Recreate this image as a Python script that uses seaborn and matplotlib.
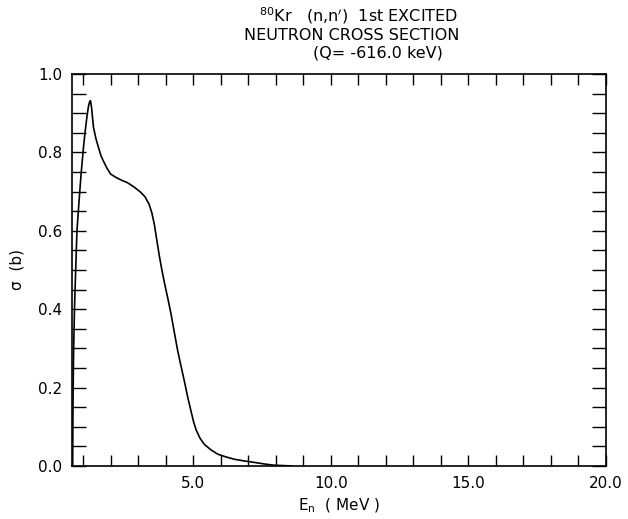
import numpy as np
import pandas as pd
import matplotlib
matplotlib.use("Agg")
import matplotlib.pyplot as plt
from matplotlib.ticker import MultipleLocator, FixedLocator
import seaborn as sns

# Data
energy_mev = [0.624, 0.63, 0.64, 0.66, 0.69, 0.72, 0.78, 0.85, 0.93, 1.02, 1.08, 1.15, 1.20, 1.24, 1.27,
              1.31, 1.38, 1.47, 1.56, 1.65, 1.74, 1.86, 2.00, 2.20, 2.40, 2.61, 2.85, 3.10,
              3.25, 3.40, 3.50, 3.59, 3.68, 3.77, 3.86, 3.95, 4.08, 4.20, 4.32, 4.44, 4.56,
              4.68, 4.80, 4.93, 5.02, 5.11, 5.25, 5.41, 5.65, 5.90, 6.20, 6.51, 6.85,
              7.24, 7.60, 7.95, 8.30, 8.60]
sigma_b = [0.000, 0.080, 0.190, 0.300, 0.400, 0.470, 0.600, 0.670, 0.745, 0.815, 0.855, 0.895, 0.918, 0.929, 0.932,
           0.915, 0.864, 0.835, 0.813, 0.792, 0.778, 0.761, 0.745, 0.736, 0.729, 0.723, 0.712, 0.698,
           0.687, 0.668, 0.646, 0.617, 0.577, 0.537, 0.502, 0.470, 0.428, 0.387, 0.340, 0.294, 0.255,
           0.217, 0.177, 0.138, 0.112, 0.092, 0.071, 0.055, 0.041, 0.030, 0.023, 0.017, 0.013,
           0.009, 0.005, 0.002, 0.001, 0.000]

x_major = [5, 10, 15, 20]
x_labels = ["5.0", "10.0", "15.0", "20.0"]
y_major = [0.0, 0.2, 0.4, 0.6, 0.8, 1.0]
y_labels = ["0.0", "0.2", "0.4", "0.6", "0.8", "1.0"]

title_lines = [r"$^{80}$Kr   (n,n$'$)  1st EXCITED", "NEUTRON CROSS SECTION", "(Q= -616.0 keV)"]

sns.set_style("ticks")
plt.rcParams["font.family"] = ["DejaVu Sans"]
plt.rcParams["mathtext.fontset"] = "dejavusans"
plt.rcParams["text.color"] = "black"
plt.rcParams["axes.labelcolor"] = "black"
plt.rcParams["xtick.color"] = "black"
plt.rcParams["ytick.color"] = "black"

fig = plt.figure(figsize=(6.28, 5.19), dpi=100)
ax = fig.add_axes([72.0 / 628, 1 - 466 / 519, (606 - 72.0) / 628, (466 - 74) / 519])

df = pd.DataFrame({"E": energy_mev, "sigma": sigma_b})
sns.lineplot(data=df, x="E", y="sigma", ax=ax, color="black", linewidth=1.2, sort=False)

ax.set_xlim(0.6, 20)
ax.set_ylim(0, 1.0)

ax.xaxis.set_major_locator(FixedLocator(x_major))
ax.set_xticklabels(x_labels)
ax.xaxis.set_minor_locator(MultipleLocator(1))
ax.yaxis.set_major_locator(FixedLocator(y_major))
ax.set_yticklabels(y_labels)
ax.yaxis.set_minor_locator(MultipleLocator(0.05))

ax.tick_params(axis="both", which="both", direction="in", top=True, right=True,
               width=1.0, color="black", labelcolor="black", labelsize=11, pad=7)
ax.tick_params(axis="x", which="both", length=8)
ax.tick_params(axis="y", which="both", length=10)
for sp in ax.spines.values():
    sp.set_visible(True)
    sp.set_linewidth(1.2)
    sp.set_color("black")

ax.set_xlabel(r"E$_{\mathregular{n}}$  ( MeV )", fontsize=11, labelpad=4, color="black")
ax.set_ylabel(r"σ  (b)", fontsize=11, labelpad=10, color="black")

fig.text(358 / 628, 1 - 16 / 519, title_lines[0], ha="center", va="center", fontsize=11.5, color="black")
fig.text(352 / 628, 1 - 35 / 519, title_lines[1], ha="center", va="center", fontsize=11.5, color="black")
fig.text(378 / 628, 1 - 53 / 519, title_lines[2], ha="center", va="center", fontsize=11.5, color="black")

fig.savefig("out.png", dpi=100, facecolor="white")
